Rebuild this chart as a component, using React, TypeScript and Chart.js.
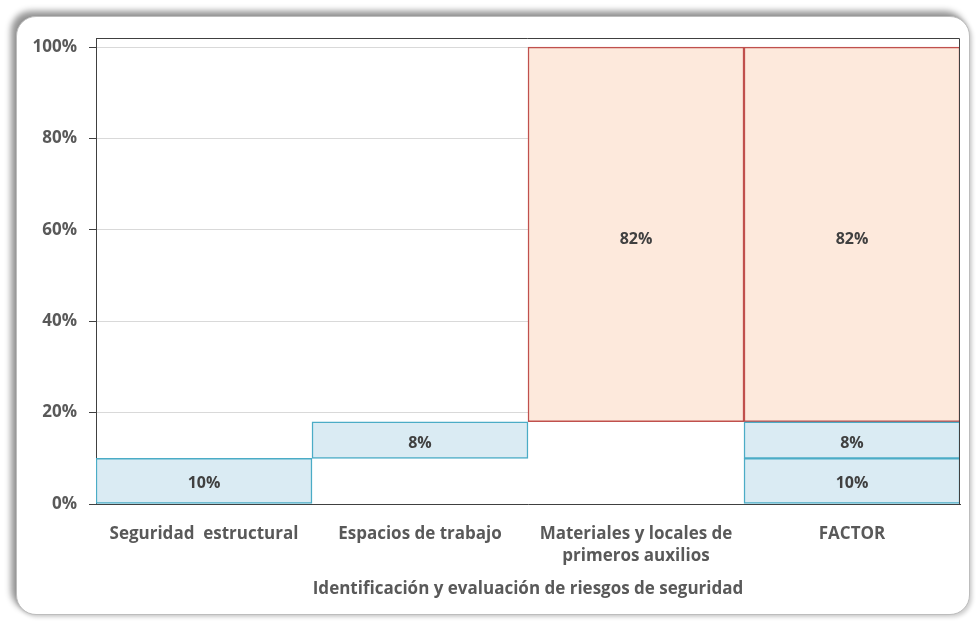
import React, { useEffect, useRef } from "react";
import { Chart, registerables } from "chart.js";

Chart.register(...registerables);

// Risk categories on the x axis
const categories: (string | string[])[] = [
  "Seguridad  estructural",
  "Espacios de trabajo",
  ["Materiales y locales de", "primeros auxilios"],
  "FACTOR",
];

// Components of the total factor and their shares
const componentNames = [
  "Seguridad estructural",
  "Espacios de trabajo",
  "Materiales y locales de primeros auxilios",
];
const componentShares = [0.1, 0.08, 0.82];
const componentFills = ["#DAEBF3", "#DAEBF3", "#FDE9DC"];
const componentBorders = ["#4BACC6", "#4BACC6", "#C0504D"];

const yTicks = [0, 0.2, 0.4, 0.6, 0.8, 1.0];
const axisTitle = "Identificación y evaluación de riesgos de seguridad";

const FONT = "'Open Sans', 'Noto Sans', sans-serif";
const TEXT = "#595959";
const SIZE = 17;

export default function App() {
  const canvasRef = useRef<HTMLCanvasElement | null>(null);

  useEffect(() => {
    if (!canvasRef.current) return;

    // Each component floats from the running total of the previous ones,
    // and is repeated stacked in the final FACTOR column.
    let running = 0;
    const datasets = componentShares.map((share, i) => {
      const start = running;
      const end = running + share;
      running = end;
      const data = categories.map((_, c) =>
        c === i || c === categories.length - 1 ? [start, end] : null
      );
      return {
        label: componentNames[i],
        data,
        backgroundColor: componentFills[i],
        borderColor: componentBorders[i],
        borderWidth: 1.5,
        borderSkipped: false,
        barPercentage: 1,
        categoryPercentage: 1,
        grouped: false,
        share,
      };
    });

    const valueLabels = {
      id: "valueLabels",
      afterDatasetsDraw(chart: any) {
        const ctx = chart.ctx;
        ctx.save();
        ctx.font = `bold ${SIZE - 1}px ${FONT}`;
        ctx.fillStyle = "#404040";
        ctx.textAlign = "center";
        ctx.textBaseline = "middle";
        chart.data.datasets.forEach((ds: any, di: number) => {
          const meta = chart.getDatasetMeta(di);
          meta.data.forEach((el: any, idx: number) => {
            if (ds.data[idx] == null) return;
            const y = (el.y + el.base) / 2;
            const h = Math.abs(el.base - el.y);
            ctx.fillText(Math.round(ds.share * 100) + "%", el.x, y + (h > 100 ? 5 : 3));
          });
        });
        ctx.restore();
      },
    };

    const plotFrame = {
      id: "plotFrame",
      afterDatasetsDraw(chart: any) {
        const { ctx, chartArea } = chart;
        ctx.save();
        ctx.strokeStyle = "#404040";
        ctx.lineWidth = 1;
        ctx.beginPath();
        ctx.moveTo(chartArea.left, chartArea.top + 0.5);
        ctx.lineTo(chartArea.right - 0.5, chartArea.top + 0.5);
        ctx.lineTo(chartArea.right - 0.5, chartArea.bottom);
        ctx.stroke();
        ctx.restore();
      },
    };

    const chart = new Chart(canvasRef.current, {
      type: "bar",
      data: { labels: categories as any, datasets: datasets as any },
      options: {
        animation: false,
        responsive: false,
        layout: { padding: { top: 38, right: 16, left: 0, bottom: 0 } },
        plugins: {
          legend: { display: false },
          tooltip: { enabled: false },
        },
        scales: {
          x: {
            afterFit: (s: any) => {
              s.height = 117;
            },
            grid: { display: false, drawTicks: false },
            border: { display: true, color: "#404040", width: 1 },
            ticks: {
              padding: 19,
              color: TEXT,
              font: { family: FONT, size: SIZE, weight: "bold", lineHeight: 1.3 },
              maxRotation: 0,
              autoSkip: false,
            },
            title: {
              display: true,
              text: axisTitle,
              color: TEXT,
              font: { family: FONT, size: SIZE, weight: "bold", lineHeight: 1.2 },
              padding: { top: 0, bottom: 22 },
            },
          },
          y: {
            min: 0,
            max: 1.02,
            afterFit: (s: any) => {
              s.width = 96;
            },
            afterBuildTicks: (s: any) => {
              s.ticks = yTicks.map((v) => ({ value: v }));
            },
            grid: {
              color: "#D9D9D9",
              tickColor: "#404040",
              tickLength: 7,
              lineWidth: 1,
            },
            border: { display: true, color: "#404040", width: 1 },
            ticks: {
              padding: 12,
              color: TEXT,
              font: { family: FONT, size: SIZE, weight: "bold" },
              callback: (v: any) => Math.round(Number(v) * 100) + "%",
            },
          },
        },
      },
      plugins: [valueLabels, plotFrame],
    });

    return () => chart.destroy();
  }, []);

  return (
    <div style={{ position: "absolute", left: 0, top: 0, width: 976, height: 621, background: "#ffffff" }}>
      <div
        style={{
          position: "absolute",
          left: 16,
          top: 16,
          width: 952,
          height: 597,
          borderRadius: 20,
          background: "#ffffff",
          border: "1px solid #bdbdbd",
          boxShadow: "-5px -5px 6px rgba(0,0,0,0.42), 2px 2px 4px rgba(0,0,0,0.2)",
        }}
      />
      <canvas
        ref={canvasRef}
        width={976}
        height={621}
        style={{ position: "absolute", left: 0, top: 0, width: 976, height: 621 }}
      />
    </div>
  );
}
